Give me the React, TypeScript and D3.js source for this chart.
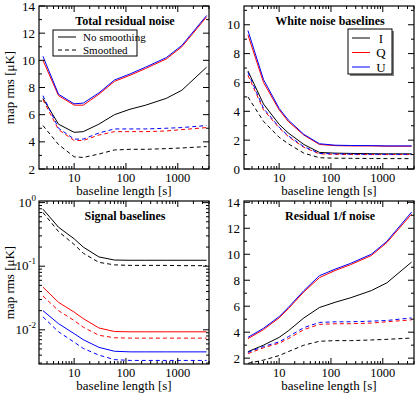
import React from "react";
import * as d3 from "d3";

const X = [2.5, 5, 10, 15, 30, 60, 120, 240, 600, 1200, 3600];

// Total residual noise
const totI = [7.2, 5.3, 4.7, 4.75, 5.3, 6.0, 6.4, 6.7, 7.2, 7.8, 9.5];
const totQ = [10.0, 7.4, 6.7, 6.7, 7.5, 8.45, 8.9, 9.4, 10.1, 11.0, 13.2];
const totU = [10.3, 7.5, 6.8, 6.85, 7.6, 8.55, 9.0, 9.5, 10.2, 11.1, 13.3];
const totIs = [5.2, 3.8, 2.9, 2.85, 3.1, 3.4, 3.45, 3.45, 3.5, 3.55, 3.65];
const totQs = [7.1, 4.9, 4.1, 4.1, 4.5, 4.75, 4.75, 4.75, 4.8, 4.9, 5.05];
const totUs = [7.4, 5.0, 4.2, 4.2, 4.65, 4.95, 4.95, 4.95, 5.0, 5.05, 5.2];

// White noise baselines
const whI = [6.8, 4.5, 3.1, 2.5, 1.7, 1.15, 1.1, 1.08, 1.06, 1.05, 1.05];
const whQ = [9.3, 6.0, 4.1, 3.3, 2.35, 1.7, 1.62, 1.6, 1.6, 1.58, 1.58];
const whU = [9.6, 6.2, 4.2, 3.4, 2.4, 1.75, 1.65, 1.63, 1.62, 1.6, 1.6];
const whIs = [5.0, 3.3, 2.2, 1.75, 1.1, 0.78, 0.75, 0.74, 0.73, 0.72, 0.72];
const whQs = [6.5, 4.1, 2.85, 2.25, 1.5, 1.05, 1.02, 1.0, 1.0, 1.0, 1.0];
const whUs = [6.7, 4.2, 2.9, 2.3, 1.55, 1.08, 1.05, 1.03, 1.02, 1.02, 1.02];

// Signal baselines
const sgI = [0.79, 0.41, 0.27, 0.2, 0.14, 0.125, 0.124, 0.124, 0.124, 0.124, 0.124];
const sgIs = [0.7, 0.35, 0.22, 0.16, 0.115, 0.105, 0.103, 0.103, 0.103, 0.102, 0.102];
const sgQ = [0.047, 0.027, 0.019, 0.015, 0.0107, 0.0094, 0.0093, 0.0093, 0.0093, 0.0093, 0.0093];
const sgQs = [0.034, 0.02, 0.014, 0.011, 0.0082, 0.0075, 0.0074, 0.0074, 0.0074, 0.0074, 0.0074];
const sgU = [0.02, 0.0125, 0.0087, 0.007, 0.0053, 0.0046, 0.0045, 0.0045, 0.0045, 0.0045, 0.0045];
const sgUs = [0.016, 0.0093, 0.0064, 0.0051, 0.004, 0.0034, 0.0033, 0.0033, 0.0033, 0.0033, 0.0033];

// Residual 1/f noise
const ofI = [2.5, 3.0, 3.6, 4.1, 5.1, 5.9, 6.3, 6.65, 7.2, 7.8, 9.4];
const ofQ = [3.5, 4.2, 5.1, 5.8, 7.1, 8.2, 8.75, 9.2, 9.9, 10.9, 13.1];
const ofU = [3.6, 4.3, 5.2, 5.9, 7.2, 8.35, 8.85, 9.3, 10.0, 11.0, 13.25];
const ofIs = [1.6, 1.85, 2.2, 2.5, 3.0, 3.3, 3.35, 3.35, 3.4, 3.45, 3.55];
const ofQs = [2.35, 2.8, 3.15, 3.5, 4.2, 4.6, 4.65, 4.65, 4.7, 4.8, 4.95];
const ofUs = [2.45, 2.9, 3.25, 3.65, 4.35, 4.75, 4.8, 4.8, 4.85, 4.9, 5.1];

const xTickLabels = [10, 100, 1000];
const titles = ["Total residual noise", "White noise baselines", "Signal baselines", "Residual 1/f noise"];
const legendSmooth = ["No smoothing", "Smoothed"];
const legendStokes = ["I", "Q", "U"];
const COLORS = ["#000000", "#ff0000", "#0000ff"];
const FONT = "Liberation Serif, Times New Roman, DejaVu Serif, serif";

type Panel = {
  left: number; top: number; width: number; height: number;
  yLog: boolean; yDomain: [number, number]; yMajors: number[]; yMinors: number[];
  series: { v: number[]; c: number; dashed: boolean }[];
  title: string; yLabel: boolean;
};

function PanelView({ p }: { p: Panel }) {
  const x = d3.scaleLog().domain([2.1, 4000]).range([p.left, p.left + p.width]);
  const y = (p.yLog ? d3.scaleLog() : d3.scaleLinear()).domain(p.yDomain).range([p.top + p.height, p.top]) as any;
  const line = (vals: number[]) =>
    d3.line<number>().x((_, i) => x(X[i])).y((d) => y(d))(vals) || "";
  const xMaj = [10, 100, 1000];
  const xMin: number[] = [];
  for (const dec of [1, 10, 100, 1000]) for (let k = 2; k <= 9; k++) { const v = dec * k; if (v >= 2.1 && v <= 4000) xMin.push(v); }
  const bottom = p.top + p.height, right = p.left + p.width;
  const MJ = 6, MN = 3;
  return (
    <g style={{ fontFamily: FONT }}>
      <defs>
        <clipPath id={`clip${p.left}${p.top}`}>
          <rect x={p.left} y={p.top} width={p.width} height={p.height} />
        </clipPath>
      </defs>
      <g clipPath={`url(#clip${p.left}${p.top})`}>
        {p.series.map((s, i) => (
          <path key={i} d={line(s.v)} fill="none" stroke={COLORS[s.c]} strokeWidth={1}
            strokeDasharray={s.dashed ? "4,3" : undefined} />
        ))}
      </g>
      {xMaj.map((v) => (
        <g key={"xM" + v}>
          <line x1={x(v)} x2={x(v)} y1={bottom} y2={bottom - MJ} stroke="#000" />
          <line x1={x(v)} x2={x(v)} y1={p.top} y2={p.top + MJ} stroke="#000" />
        </g>
      ))}
      {xMin.map((v) => (
        <g key={"xm" + v}>
          <line x1={x(v)} x2={x(v)} y1={bottom} y2={bottom - MN} stroke="#000" />
          <line x1={x(v)} x2={x(v)} y1={p.top} y2={p.top + MN} stroke="#000" />
        </g>
      ))}
      {p.yMajors.map((v) => (
        <g key={"yM" + v}>
          <line x1={p.left} x2={p.left + MJ} y1={y(v)} y2={y(v)} stroke="#000" />
          <line x1={right} x2={right - MJ} y1={y(v)} y2={y(v)} stroke="#000" />
        </g>
      ))}
      {p.yMinors.map((v) => (
        <g key={"ym" + v}>
          <line x1={p.left} x2={p.left + MN} y1={y(v)} y2={y(v)} stroke="#000" />
          <line x1={right} x2={right - MN} y1={y(v)} y2={y(v)} stroke="#000" />
        </g>
      ))}
      <rect x={p.left} y={p.top} width={p.width} height={p.height} fill="none" stroke="#000" strokeWidth={1.2} />
      {xTickLabels.map((v) => (
        <text key={"xl" + v} x={x(v)} y={bottom + 13} textAnchor="middle" fontSize={12.5}>{v}</text>
      ))}
      {p.yMajors.map((v) => {
        if (p.yLog) {
          const e = Math.round(Math.log10(v));
          return (
            <text key={"yl" + v} x={p.left - 3} y={y(v) + 4} textAnchor="end" fontSize={13}>
              10<tspan dy={-6} fontSize={9}>{e}</tspan>
            </text>
          );
        }
        return (
          <text key={"yl" + v} x={p.left - 4} y={y(v) + 4.5} textAnchor="end" fontSize={13}>{v}</text>
        );
      })}
      <text x={p.left + p.width / 2} y={bottom + 26} textAnchor="middle" fontSize={13}>baseline length [s]</text>
      <text x={p.left + p.width / 2 + 1} y={p.top + 19} textAnchor="middle" fontSize={12} fontWeight="bold">{p.title}</text>
      {p.yLabel && (
        <text transform={`translate(${14},${p.top + p.height / 2}) rotate(-90)`} textAnchor="middle" fontSize={13}>map rms [μK]</text>
      )}
    </g>
  );
}

const rangeStep = (a: number, b: number, s: number) => d3.range(a, b + 1e-9, s);

export default function App() {
  const W = 170, H = 163;
  const mk = (vals: number[][]) => [
    { v: vals[0], c: 0, dashed: false }, { v: vals[1], c: 1, dashed: false }, { v: vals[2], c: 2, dashed: false },
    { v: vals[3], c: 0, dashed: true }, { v: vals[4], c: 1, dashed: true }, { v: vals[5], c: 2, dashed: true },
  ];
  const logMinors: number[] = [];
  for (const dec of [0.001, 0.01, 0.1]) for (let k = 2; k <= 9; k++) { const v = dec * k; if (v >= 0.0029) logMinors.push(v); }
  const panels: Panel[] = [
    { left: 39, top: 6, width: W, height: H, yLog: false, yDomain: [2, 14], yMajors: rangeStep(2, 14, 2), yMinors: rangeStep(3, 13, 2),
      series: mk([totI, totQ, totU, totIs, totQs, totUs]), title: titles[0], yLabel: true },
    { left: 244, top: 6, width: W, height: H, yLog: false, yDomain: [0, 11.3], yMajors: rangeStep(0, 10, 2), yMinors: rangeStep(1, 11, 2),
      series: mk([whI, whQ, whU, whIs, whQs, whUs]), title: titles[1], yLabel: false },
    { left: 39, top: 201, width: W, height: H, yLog: true, yDomain: [0.0029, 1.06], yMajors: [0.01, 0.1, 1], yMinors: logMinors,
      series: mk([sgI, sgQ, sgU, sgIs, sgQs, sgUs]), title: titles[2], yLabel: true },
    { left: 244, top: 201, width: W, height: H, yLog: false, yDomain: [1.55, 14.1], yMajors: rangeStep(2, 14, 2), yMinors: rangeStep(3, 13, 2),
      series: mk([ofI, ofQ, ofU, ofIs, ofQs, ofUs]), title: titles[3], yLabel: false },
  ];
  return (
    <svg width={415} height={394} style={{ position: "absolute", left: 0, top: 0, background: "#fff", fontFamily: FONT }}>
      <rect width={415} height={394} fill="#fff" />
      {panels.map((p, i) => <PanelView key={i} p={p} />)}
      <g>
        <rect x={53} y={30} width={84} height={26} fill="#fff" stroke="#000" strokeWidth={1} />
        {legendSmooth.map((t, i) => (
          <g key={t}>
            <line x1={58} x2={76} y1={37 + i * 13} y2={37 + i * 13} stroke="#000" strokeDasharray={i ? "4,3" : undefined} />
            <text x={83} y={41 + i * 13} fontSize={11}>{t}</text>
          </g>
        ))}
      </g>
      <g>
        <rect x={350} y={31} width={44} height={45} fill="#808080" />
        <rect x={348} y={29} width={44} height={45} fill="#fff" stroke="#000" strokeWidth={1} />
        {legendStokes.map((t, i) => (
          <g key={t}>
            <line x1={352} x2={370} y1={38 + i * 14.5} y2={38 + i * 14.5} stroke={COLORS[i]} />
            <text x={381} y={42.5 + i * 14.5} textAnchor="middle" fontSize={13}>{t}</text>
          </g>
        ))}
      </g>
    </svg>
  );
}
